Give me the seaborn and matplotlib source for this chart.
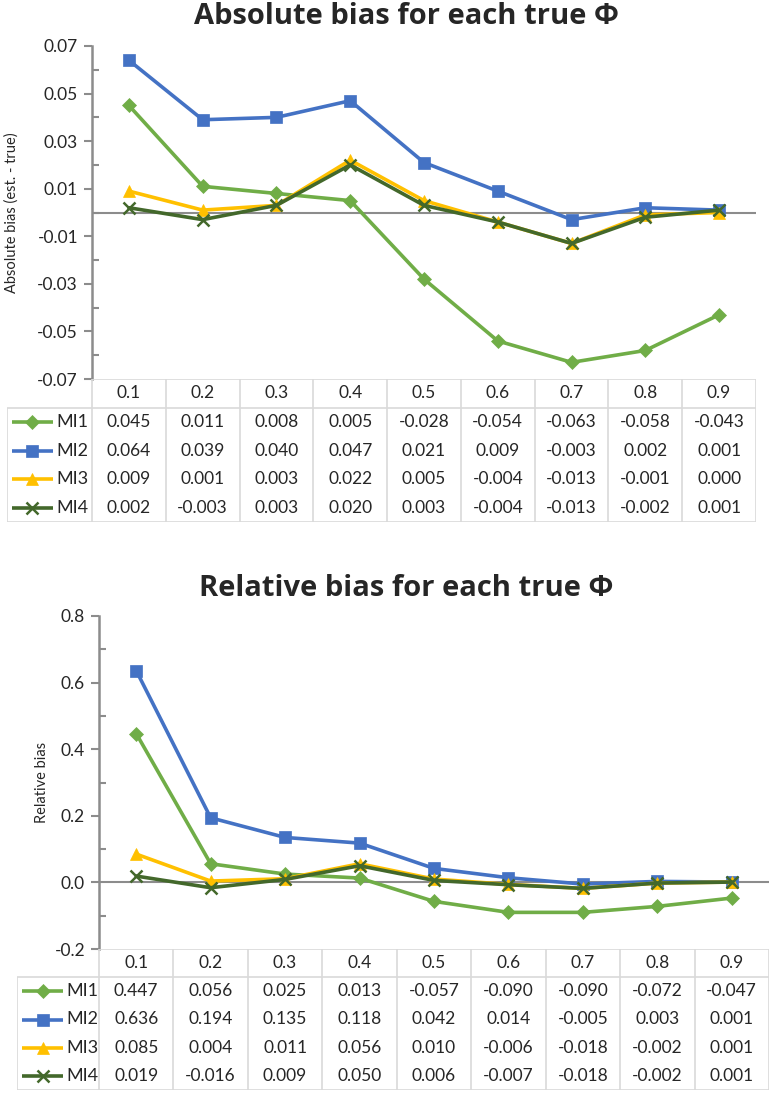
import numpy as np
import pandas as pd
import matplotlib
matplotlib.use("Agg")
import matplotlib.pyplot as plt
import seaborn as sns

# true phi categories
phi = ["0.1", "0.2", "0.3", "0.4", "0.5", "0.6", "0.7", "0.8", "0.9"]
methods = ["MI1", "MI2", "MI3", "MI4"]

# absolute bias (est. - true)
abs_mi1 = [0.045, 0.011, 0.008, 0.005, -0.028, -0.054, -0.063, -0.058, -0.043]
abs_mi2 = [0.064, 0.039, 0.040, 0.047, 0.021, 0.009, -0.003, 0.002, 0.001]
abs_mi3 = [0.009, 0.001, 0.003, 0.022, 0.005, -0.004, -0.013, -0.001, 0.000]
abs_mi4 = [0.002, -0.003, 0.003, 0.020, 0.003, -0.004, -0.013, -0.002, 0.001]

# relative bias
rel_mi1 = [0.447, 0.056, 0.025, 0.013, -0.057, -0.090, -0.090, -0.072, -0.047]
rel_mi2 = [0.636, 0.194, 0.135, 0.118, 0.042, 0.014, -0.005, 0.003, 0.001]
rel_mi3 = [0.085, 0.004, 0.011, 0.056, 0.010, -0.006, -0.018, -0.002, 0.001]
rel_mi4 = [0.019, -0.016, 0.009, 0.050, 0.006, -0.007, -0.018, -0.002, 0.001]

colors = {"MI1": "#70AD47", "MI2": "#4472C4", "MI3": "#FFC000", "MI4": "#43682B"}
markers = {"MI1": "D", "MI2": "s", "MI3": "^", "MI4": "x"}
msizes = {"MI1": 7, "MI2": 9, "MI3": 9, "MI4": 9}

sns.set_style("white")
plt.rcParams["font.family"] = ["Lato", "DejaVu Sans"]

W, H = 773, 1094
fig = plt.figure(figsize=(W / 100, H / 100), dpi=100)

GRID = "#D9D9D9"
AXC = "#8C8C8C"
TXT = "#262626"


def px_axes(l, t, r, b):
    return fig.add_axes([l / W, 1 - b / H, (r - l) / W, (b - t) / H])


def long_df(series):
    rows = []
    for m, vals in zip(methods, series):
        for i, v in enumerate(vals):
            rows.append({"pos": i, "val": v, "method": m})
    return pd.DataFrame(rows)


def draw_panel(box, tbox, series, title, ylabel, major, minor, fmt, ylab_x):
    ax = px_axes(*box)
    df = long_df(series)
    for m in methods:
        sub = df[df["method"] == m]
        sns.lineplot(data=sub, x="pos", y="val", ax=ax, color=colors[m],
                     marker=markers[m], markersize=msizes[m], linewidth=2.6,
                     markeredgecolor=colors[m], markeredgewidth=1.8 if m == "MI4" else 0.5,
                     legend=False, zorder=3)
    ax.set_xlim(-0.5, len(phi) - 0.5)
    ax.set_ylim(major[0], major[-1])
    ax.axhline(0, color=AXC, lw=1.5, zorder=2)
    for s in ["top", "right", "bottom"]:
        ax.spines[s].set_visible(False)
    ax.spines["left"].set_color(AXC)
    ax.spines["left"].set_linewidth(1.8)
    ax.set_xticks([])
    ax.set_xlabel("")
    ax.set_yticks(major)
    ax.set_yticklabels([fmt.format(v) for v in major], fontsize=12.5, color=TXT)
    ax.set_yticks(minor, minor=True)
    ax.tick_params(axis="y", which="major", direction="out", length=6, width=1.5, color=AXC, pad=4, left=True)
    ax.tick_params(axis="y", which="minor", direction="in", length=5, width=1.5, color=AXC, left=True)
    ax.set_ylabel("")
    fig.text(ylab_x / W, 1 - ((box[1] + box[3]) / 2) / H, ylabel, rotation=90,
             ha="center", va="center", fontsize=10.5, color=TXT)
    fig.text(406 / W, 1 - title[1] / H, title[0], ha="center", va="center",
             fontsize=21, fontweight="bold", color=TXT, family=["Open Sans", "DejaVu Sans"])

    # data table under the plot
    tl, tt, tr, tb = tbox
    colw = (tr - box[0]) / len(phi)
    leg_w = (box[0] - tl) / colw
    L = -0.5 - leg_w
    R = len(phi) - 0.5
    tax = px_axes(tl, tt, tr, tb)
    tax.set_xlim(L, R)
    tax.set_ylim(5, 0)
    tax.axis("off")
    lk = dict(color=GRID, lw=1.2, solid_capstyle="butt")
    tax.plot([-0.5, R], [0, 0], **lk)
    tax.plot([L, R], [1, 1], **lk)
    tax.plot([L, R], [5, 5], **lk)
    tax.plot([L, L], [1, 5], **lk)
    for i in range(len(phi) + 1):
        tax.plot([-0.5 + i, -0.5 + i], [0, 5], **lk)
    for i, p in enumerate(phi):
        tax.text(i, 0.5, p, ha="center", va="center", fontsize=12.5, color=TXT)
    for r, (m, vals) in enumerate(zip(methods, series)):
        yc = r + 1.5
        x0, x1 = L + 5 / colw, L + 46 / colw
        tax.plot([x0, x1], [yc, yc], color=colors[m], lw=2.6, solid_capstyle="butt")
        tax.plot([(x0 + x1) / 2], [yc], marker=markers[m], color=colors[m],
                 markersize=msizes[m], markeredgewidth=1.8 if m == "MI4" else 0.5,
                 markeredgecolor=colors[m])
        tax.text(L + 49 / colw, yc, m, ha="left", va="center", fontsize=13, color=TXT)
        for i, v in enumerate(vals):
            tax.text(i, yc, "{:.3f}".format(v), ha="center", va="center", fontsize=12.5, color=TXT)
    return ax


draw_panel((92, 46, 756, 379), (7, 379, 756, 522),
           [abs_mi1, abs_mi2, abs_mi3, abs_mi4],
           ("Absolute bias for each true \u03a6", 17),
           "Absolute bias (est. - true)",
           np.round(np.arange(-0.07, 0.0701, 0.02), 2),
           np.round(np.arange(-0.06, 0.0601, 0.02), 2),
           "{:.2f}", 12)

draw_panel((99, 616, 769, 949), (17, 949, 769, 1090),
           [rel_mi1, rel_mi2, rel_mi3, rel_mi4],
           ("Relative bias for each true \u03a6", 588),
           "Relative bias",
           np.round(np.arange(-0.2, 0.801, 0.2), 1),
           np.round(np.arange(-0.1, 0.701, 0.2), 1),
           "{:.1f}", 42)

fig.savefig("out.png", dpi=100)
